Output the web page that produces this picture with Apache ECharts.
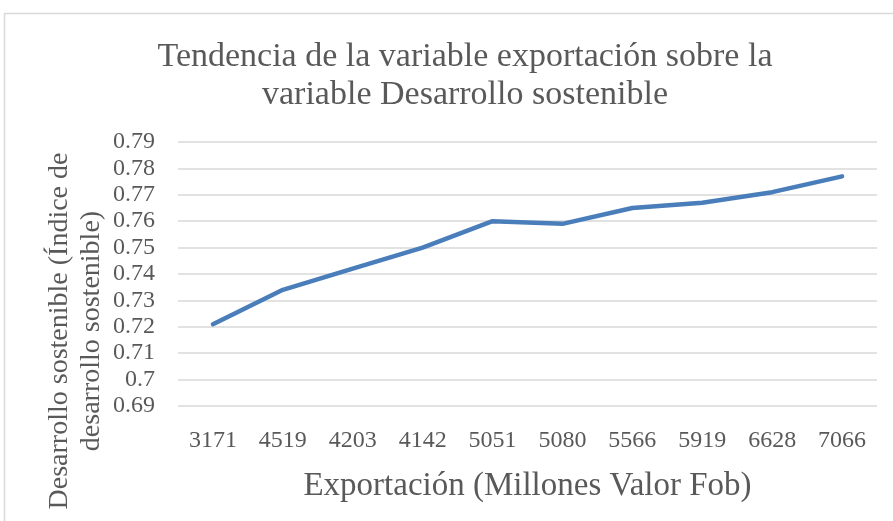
<!DOCTYPE html>
<html>
<head>
<meta charset="utf-8">
<script src="https://cdn.jsdelivr.net/npm/echarts@6/dist/echarts.min.js"></script>
<style>
  html, body { margin: 0; padding: 0; background: #fff; }
  #chart { width: 893px; height: 521px; }
</style>
</head>
<body>
<div id="chart"></div>
<script>
// exportaciones (millones valor FOB) y el índice de desarrollo sostenible
var categories = ["3171", "4519", "4203", "4142", "5051", "5080", "5566", "5919", "6628", "7066"];
var indice = [0.721, 0.734, 0.742, 0.750, 0.760, 0.759, 0.765, 0.767, 0.771, 0.777];
var titleLines = ["Tendencia de la variable exportación sobre la", "variable Desarrollo sostenible"];
var yName = ["Desarrollo sostenible (Índice de", "desarrollo sostenible)"];
var xName = "Exportación (Millones Valor Fob)";

var font = "'Liberation Serif', 'DejaVu Serif', serif";
var grey = "#595959";

var chart = echarts.init(document.getElementById("chart"));
var option = {
  animation: false,
  title: {
    text: titleLines.join("\n"),
    left: 460,
    top: 33,
    textAlign: "center",
    textStyle: {
      fontFamily: font,
      fontSize: 34,
      fontWeight: "normal",
      color: grey,
      lineHeight: 38
    }
  },
  grid: {
    left: 178,
    right: 16,
    top: 142,
    bottom: 115
  },
  xAxis: {
    type: "category",
    data: categories,
    axisLine: { show: false },
    axisTick: { show: false },
    axisLabel: {
      margin: 23,
      fontFamily: font,
      fontSize: 24,
      color: grey
    },
    name: xName,
    nameLocation: "middle",
    nameGap: 64,
    nameTextStyle: {
      fontFamily: font,
      fontSize: 33,
      color: grey
    }
  },
  yAxis: {
    type: "value",
    min: 0.69,
    max: 0.79,
    interval: 0.01,
    axisLine: { show: false },
    axisTick: { show: false },
    splitLine: { lineStyle: { color: "#d9d9d9", width: 1.5 } },
    axisLabel: {
      margin: 23,
      fontFamily: font,
      fontSize: 24,
      color: grey,
      formatter: function (v) { return String(+v.toFixed(2)); }
    }
  },
  graphic: [
    {
      type: "rect",
      shape: { x: 4.5, y: 13.5, width: 900, height: 520 },
      style: { fill: "none", stroke: "#d9d9d9", lineWidth: 1.5 },
      silent: true
    },
    {
      type: "text",
      x: 76,
      y: 331,
      rotation: Math.PI / 2,
      style: {
        text: yName.join("\n"),
        fontFamily: font,
        fontSize: 28,
        lineHeight: 32,
        fill: grey,
        align: "center",
        verticalAlign: "middle"
      }
    }
  ],
  series: [
    {
      type: "line",
      data: indice,
      symbol: "none",
      lineStyle: { color: "#4a7ebb", width: 4.5, cap: "round", join: "round" }
    }
  ]
};
chart.setOption(option);
</script>
</body>
</html>
